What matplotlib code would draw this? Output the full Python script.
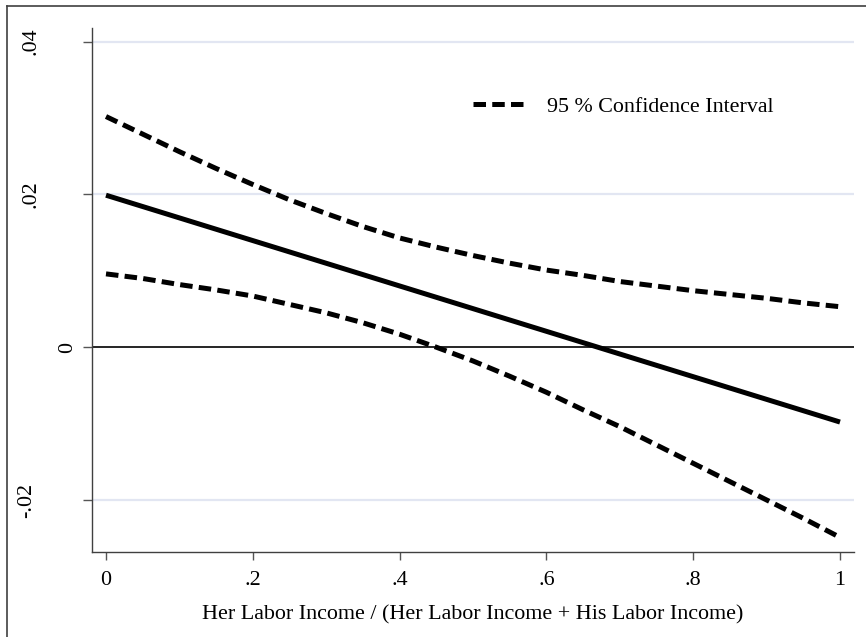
import matplotlib
matplotlib.use("Agg")
import matplotlib.pyplot as plt
from matplotlib.lines import Line2D
import matplotlib.transforms as mtransforms

# ---- data ----
share = [0.00, 0.05, 0.10, 0.15, 0.20, 0.25, 0.30, 0.35, 0.40, 0.45, 0.50,
         0.55, 0.60, 0.65, 0.70, 0.75, 0.80, 0.85, 0.90, 0.95, 1.00]
fit_share = [0.0, 1.0]
effect = [0.0199, -0.0098]
ci_upper = [0.0302, 0.0279, 0.0256, 0.0234, 0.0213, 0.0193, 0.0175, 0.0158, 0.0143,
            0.0131, 0.0120, 0.0110, 0.0101, 0.0094, 0.0086, 0.0080, 0.0074,
            0.0069, 0.0064, 0.0058, 0.0053]
ci_lower = [0.0096, 0.0090, 0.0082, 0.0075, 0.0067, 0.0056, 0.0045, 0.0032, 0.0017,
            0.0000, -0.0018, -0.0038, -0.0059, -0.0082, -0.0104, -0.0128, -0.0152,
            -0.0176, -0.0200, -0.0224, -0.0249]
xticks = [0, 0.2, 0.4, 0.6, 0.8, 1.0]
xticklabels = ["0", ".2", ".4", ".6", ".8", "1"]
yticks = [-0.02, 0.0, 0.02, 0.04]
yticklabels = ["-.02", "0", ".02", ".04"]
xlabel = "Her Labor Income / (Her Labor Income + His Labor Income)"
legend_label = "95 % Confidence Interval"

# ---- layout ----
W, H = 866, 637
plt.rcParams['font.family'] = ['Liberation Serif', 'DejaVu Serif']
FS = 15.8
fig = plt.figure(figsize=(W / 100, H / 100), dpi=100)
fig.patch.set_facecolor('white')
ax = fig.add_axes([92 / W, 1 - 552 / H, (854 - 92) / W, (552 - 28.3) / H])
ax.set_xlim(-14 / 734, (854 - 106) / 734)
ax.set_ylim((347.2 - 552) / 7638, (347.2 - 28.3) / 7638)

spine_col = '#404040'
for s in ['top', 'right']:
    ax.spines[s].set_visible(False)
for s in ['left', 'bottom']:
    ax.spines[s].set_color(spine_col)
    ax.spines[s].set_linewidth(1.0)

# grid at y ticks (not at 0, which has the reference line)
for yv in yticks:
    if yv != 0:
        ax.axhline(yv, color='#e2e6f2', lw=1.6, zorder=0)
ax.axhline(0, color='black', lw=1.2, zorder=1)

lw = 3.6
dash = (2.5, 1.25)
ax.plot(fit_share, effect, color='black', lw=lw, solid_capstyle='butt', zorder=3)
ax.plot(share, ci_upper, color='black', lw=lw, linestyle=(0, dash), zorder=3)
ax.plot(share, ci_lower, color='black', lw=lw, linestyle=(0, dash), zorder=3)

# ticks
ax.set_xticks(xticks)
ax.set_xticklabels(xticklabels, fontsize=FS)
ax.tick_params(axis='x', direction='out', length=5.8, width=1.0, color='#555555', pad=8)
ax.set_yticks(yticks)
ax.set_yticklabels([])
ax.tick_params(axis='y', direction='out', length=6.2, width=1.0, color='#555555')

# rotated y labels placed like the reference
trans = mtransforms.blended_transform_factory(fig.transFigure, ax.transData)
ylab_xpx = {"-.02": 26.7, "0": 67.5, ".02": 31.0, ".04": 31.0}
for yv, lab in zip(yticks, yticklabels):
    ax.text(ylab_xpx[lab] / W, yv, lab, transform=trans, rotation=90,
            ha='center', va='center', fontsize=FS)

ax.set_xlabel(xlabel, fontsize=FS, labelpad=11)

# legend
handle = Line2D([], [], color='black', lw=lw, linestyle=(0, dash))
leg = ax.legend([handle], [legend_label], loc='center left',
                bbox_to_anchor=(472.7 / W, 1 - 107 / H), bbox_transform=fig.transFigure,
                frameon=False, fontsize=FS, handlelength=50 / 21.9, handletextpad=1.1,
                borderpad=0, borderaxespad=0)

# outer border (cropped: only left and top visible)
fig.add_artist(Line2D([6.7 / W, 6.7 / W], [0, 1 - 6 / H], transform=fig.transFigure,
                      color='#404040', lw=1.2))
fig.add_artist(Line2D([6.7 / W, 1], [1 - 6 / H, 1 - 6 / H], transform=fig.transFigure,
                      color='#404040', lw=1.2))

fig.savefig('out.png', dpi=100, facecolor='white')
